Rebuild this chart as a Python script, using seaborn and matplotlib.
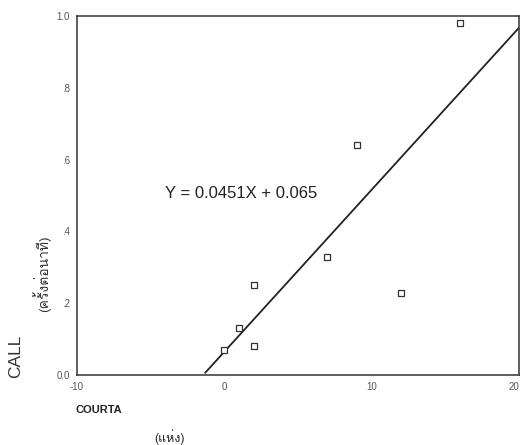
import matplotlib
matplotlib.use("Agg")
import matplotlib.pyplot as plt
from matplotlib import font_manager
from matplotlib.ft2font import FT2Font
import seaborn as sns
import pandas as pd

sns.set_style("white")

# find an installed family with Thai glyphs
thai_family = None
for fe in font_manager.fontManager.ttflist:
    try:
        cmap = FT2Font(fe.fname).get_charmap()
    except Exception:
        continue
    if 0x0E04 in cmap and 0x0E07 in cmap and 0x0E41 in cmap:
        thai_family = fe.name
        break
fams = ['Liberation Sans', 'DejaVu Sans']
if thai_family:
    fams = ['Liberation Sans', thai_family, 'DejaVu Sans']
plt.rcParams['font.family'] = fams
thai_fams = ([thai_family] if thai_family else []) + ['DejaVu Sans']

courta = [0, 1, 2, 2, 7, 9, 12, 16]
call = [0.07, 0.13, 0.25, 0.08, 0.33, 0.64, 0.23, 0.98]
slope = 0.0451
intercept = 0.065
line_x = [-1.3, 20]
xticks = [-10, 0, 10, 20]
xtick_labels = ["-10", "0", "10", "20"]
yticks = [0.0, 0.2, 0.4, 0.6, 0.8, 1.0]
ytick_labels = ["0.0", ".2", ".4", ".6", ".8", "1.0"]

df = pd.DataFrame({"COURTA": courta, "CALL": call})
line_df = pd.DataFrame({"x": line_x, "y": [slope * v + intercept for v in line_x]})

fig = plt.figure(figsize=(5.22, 4.45), dpi=100)
ax = fig.add_axes([0.1475, 0.157, 0.8465, 0.807])

sns.lineplot(data=line_df, x="x", y="y", ax=ax, color="#222222", linewidth=1.3)
sns.scatterplot(data=df, x="COURTA", y="CALL", ax=ax, marker="s", s=22,
                facecolor="white", edgecolor="#333333", linewidth=0.9, zorder=3)

ax.set_xlim(-10, 20)
ax.set_ylim(0, 1.0)
ax.set_xticks(xticks)
ax.set_xticklabels(xtick_labels)
ax.set_yticks(yticks)
ax.set_yticklabels(ytick_labels)
ax.tick_params(axis="both", direction="inout", length=3, width=1.2, color="#222222",
               labelsize=7, labelcolor="#555555")
xl = ax.get_xticklabels()
xl[-1].set_ha("right")
for s in ax.spines.values():
    s.set_color("#333333")
    s.set_linewidth(1.1)
ax.set_xlabel("")
ax.set_ylabel("")

ax.text(-4.0, 0.505, "Y = 0.0451X + 0.065", fontsize=12, color="#222222",
        va="center", ha="left")

fig.text(0.03, 0.2, "CALL", rotation=90, fontsize=12.5, color="#333333",
         va="center", ha="center")
fig.text(0.08, 0.385, "(ครั้งต่อนาที)", rotation=90, fontsize=10, color="#333333",
         va="center", ha="center", family=thai_fams)
fig.text(0.145, 0.078, "COURTA", fontsize=8, color="#222222", va="center", ha="left",
         fontweight="bold")
fig.text(0.295, 0.018, "(แห่ง)", fontsize=9, color="#222222", va="center", ha="left",
         family=thai_fams)

fig.savefig("out.png", dpi=100)
